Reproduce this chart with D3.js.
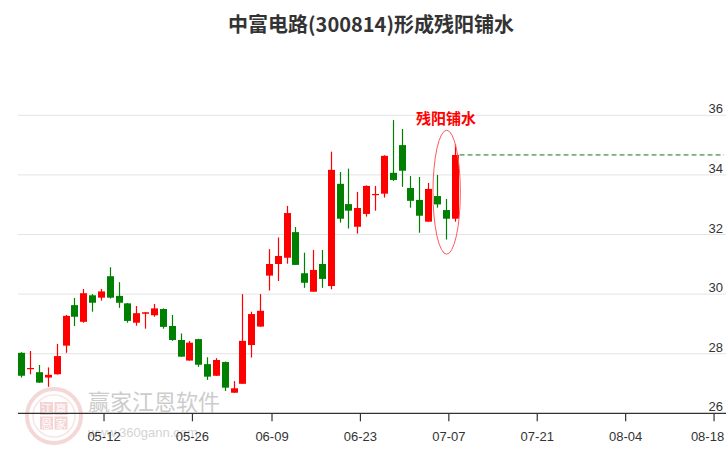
<!DOCTYPE html>
<html><head><meta charset="utf-8">
<script src="https://cdn.jsdelivr.net/npm/d3@7"></script>
<style>html,body{margin:0;padding:0;background:#fff;}svg{display:block;}</style>
</head><body>
<svg id="chart" width="726" height="450"></svg>
<script>
const title = "中富电路(300814)形成残阳铺水";
const annotation = "残阳铺水";
const dates = ["04-26","04-27","04-28","04-29","05-05","05-06","05-09","05-10","05-11","05-12",
"05-13","05-16","05-17","05-18","05-19","05-20","05-23","05-24","05-25","05-26",
"05-27","05-30","05-31","06-01","06-02","06-06","06-07","06-08","06-09",
"06-10","06-13","06-14","06-15","06-16","06-17","06-20","06-21","06-22","06-23",
"06-24","06-27","06-28","06-29","06-30","07-01","07-04","07-05","07-06","07-07","07-08",
"07-11","07-12","07-13","07-14","07-15","07-18","07-19","07-20","07-21","07-22",
"07-25","07-26","07-27","07-28","07-29","08-01","08-02","08-03","08-04","08-05",
"08-08","08-09","08-10","08-11","08-12","08-15","08-16","08-17","08-18","08-19"];
const openV  = [28.03,27.48,27.38,27.20,27.31,28.27,29.63,29.07,29.96,29.88,30.60,29.94,29.69,29.04,29.34,29.29,29.50,28.93,28.46,27.77,28.49,27.65,27.26,27.72,26.69,26.99,28.29,28.91,30.62,31.01,31.22,32.08,30.70,30.08,31.01,30.27,33.70,33.02,32.26,32.69,33.33,33.37,34.07,35.00,33.56,33.16,32.43,33.29,32.82,32.53];
const closeV = [27.26,27.52,27.03,27.29,27.92,29.27,29.24,30.03,29.71,30.09,29.88,29.71,29.10,29.36,29.39,29.52,28.90,28.46,27.90,28.37,27.63,27.23,27.79,26.86,26.84,28.43,29.33,29.44,31.01,31.28,32.72,30.98,30.38,30.81,30.51,34.17,32.53,32.80,32.89,33.63,33.36,34.64,33.83,34.14,33.13,32.63,33.53,33.01,32.53,34.67];
const highV  = [28.05,28.09,27.62,27.54,28.33,29.30,29.87,30.17,30.00,30.17,30.90,30.40,29.70,29.60,29.40,29.67,29.52,29.30,28.68,28.43,28.50,27.88,27.85,27.74,27.08,30.00,29.41,30.00,31.51,31.90,32.96,32.25,31.39,31.48,31.48,34.78,34.10,34.21,33.43,33.65,33.63,34.66,35.84,35.54,33.96,33.93,33.73,34.00,33.19,35.03];
const lowV   = [27.20,27.31,27.02,26.89,27.30,28.03,28.93,29.04,29.41,29.78,29.85,29.54,29.04,28.94,28.84,29.24,28.84,28.43,27.90,27.77,27.56,27.12,27.25,26.75,26.69,26.99,27.87,28.90,30.12,30.44,31.02,30.98,30.21,30.08,30.21,30.16,32.40,32.20,32.03,32.60,32.80,33.24,33.80,33.60,32.90,32.06,32.43,32.90,31.83,32.43];
const yTicks = [26,28,30,32,34,36];
const xTickLabels = ["05-12","05-26","06-09","06-23","07-07","07-21","08-04","08-18"];

const svg = d3.select("#chart");
const W = 726, H = 450;
const left = 18, right = 726;
const x = d3.scaleLinear().domain([-0.38, 79.7]).range([left, right]);
const y = d3.scaleLinear().domain([26, 36]).range([413.3, 115.3]);
const bodyW = 7;
const UP = "#ff0000", DOWN = "#008000";

// title
svg.append("text").attr("x", 371).attr("y", 32).attr("text-anchor","middle")
  .attr("font-family","'Noto Sans CJK SC','Noto Sans',sans-serif").attr("font-weight","bold")
  .attr("font-size",20).attr("fill","#333").text(title);

// gridlines
svg.append("g").selectAll("line").data(yTicks.filter(d=>d!==26)).join("line")
  .attr("x1", left).attr("x2", right).attr("y1", d=>y(d)).attr("y2", d=>y(d))
  .attr("stroke","#e3e3e3").attr("stroke-width",1);

// y labels
svg.append("g").selectAll("text").data(yTicks).join("text")
  .attr("x", 723).attr("y", d=>y(d)-2).attr("text-anchor","end")
  .attr("font-family","'Liberation Sans',Arial,sans-serif").attr("font-size",13).attr("fill","#333")
  .text(d=>d);

// watermark
const wm = svg.append("g").attr("opacity",0.5);
wm.append("circle").attr("cx",54).attr("cy",416).attr("r",27).attr("fill","none").attr("stroke","#eab3b3").attr("stroke-width",4);
wm.append("circle").attr("cx",54).attr("cy",416).attr("r",21).attr("fill","none").attr("stroke","#f2cccc").attr("stroke-width",1.5);
const wmChars = [["江",0,0],["赢",1,0],["恩",0,1],["家",1,1]];
wm.selectAll("rect.wmb").data(wmChars).join("rect").attr("class","wmb")
  .attr("x",d=>40+d[1]*14.5).attr("y",d=>402+d[2]*14.5).attr("width",13).attr("height",13)
  .attr("fill","#e9a9a9");
wm.selectAll("text.wmc").data(wmChars).join("text").attr("class","wmc")
  .attr("x",d=>46.5+d[1]*14.5).attr("y",d=>413+d[2]*14.5).attr("text-anchor","middle")
  .attr("font-family","'Noto Sans CJK SC',sans-serif").attr("font-size",11).attr("fill","#fff").text(d=>d[0]);
wm.append("text").attr("x",88).attr("y",410).attr("font-family","'Noto Sans CJK SC',sans-serif")
  .attr("font-size",22).attr("fill","#9a9a9a").text("赢家江恩软件");
wm.append("text").attr("x",88).attr("y",437).attr("font-family","'Liberation Sans',Arial,sans-serif")
  .attr("font-size",13).attr("fill","#aaa").text("www.360gann.com");

// x axis
svg.append("line").attr("x1",left).attr("x2",right).attr("y1",y(26)).attr("y2",y(26))
  .attr("stroke","#333").attr("stroke-width",1.2);
const tickIdx = xTickLabels.map(l => dates.indexOf(l));
const tickOff = 0.35;
const xt = svg.append("g");
xt.selectAll("line").data(tickIdx).join("line")
  .attr("x1",d=>x(d+tickOff)).attr("x2",d=>x(d+tickOff)).attr("y1",y(26)).attr("y2",y(26)+8)
  .attr("stroke","#333").attr("stroke-width",1.2);
xt.selectAll("text").data(xTickLabels).join("text")
  .attr("x",(d,i)=>Math.min(x(tickIdx[i]+tickOff), 724 - 16.5)).attr("y",441).attr("text-anchor","middle")
  .attr("font-family","'Liberation Sans',Arial,sans-serif").attr("font-size",13).attr("fill","#333")
  .text(d=>d);

// candles
const candles = openV.map((o,i)=>({i, o, c:closeV[i], h:highV[i], l:lowV[i]}));
const cg = svg.append("g");
cg.selectAll("line").data(candles).join("line")
  .attr("x1",d=>Math.round(x(d.i))+0.5).attr("x2",d=>Math.round(x(d.i))+0.5)
  .attr("y1",d=>y(d.h)).attr("y2",d=>y(d.l))
  .attr("stroke",d=>d.c>=d.o?UP:DOWN).attr("stroke-width",1.2);
cg.selectAll("rect").data(candles).join("rect")
  .attr("x",d=>Math.round(x(d.i))+0.5-bodyW/2)
  .attr("y",d=>y(Math.max(d.o,d.c)))
  .attr("width",bodyW)
  .attr("height",d=>Math.max(1.2, Math.abs(y(d.o)-y(d.c))))
  .attr("fill",d=>d.c>=d.o?UP:DOWN);

// dashed line at last close
const last = candles[candles.length-1];
svg.append("line").attr("x1",x(last.i)+5).attr("x2",724).attr("y1",y(last.c)).attr("y2",y(last.c))
  .attr("stroke","#1f6e1f").attr("stroke-width",1).attr("stroke-dasharray","5,3");

// annotation ellipse & text
svg.append("ellipse").attr("cx",(x(48)+x(49))/2-3.5).attr("cy",(y(35.5)+y(31.34))/2)
  .attr("rx",13.7).attr("ry",(y(31.34)-y(35.5))/2)
  .attr("fill","none").attr("stroke","#ff5a5a").attr("stroke-width",1);
svg.append("text").attr("x",446).attr("y",y(35.72)).attr("text-anchor","middle")
  .attr("font-family","'Noto Sans CJK SC',sans-serif").attr("font-weight","bold")
  .attr("font-size",15).attr("fill","#ff0000").text(annotation);
</script>
</body></html>
